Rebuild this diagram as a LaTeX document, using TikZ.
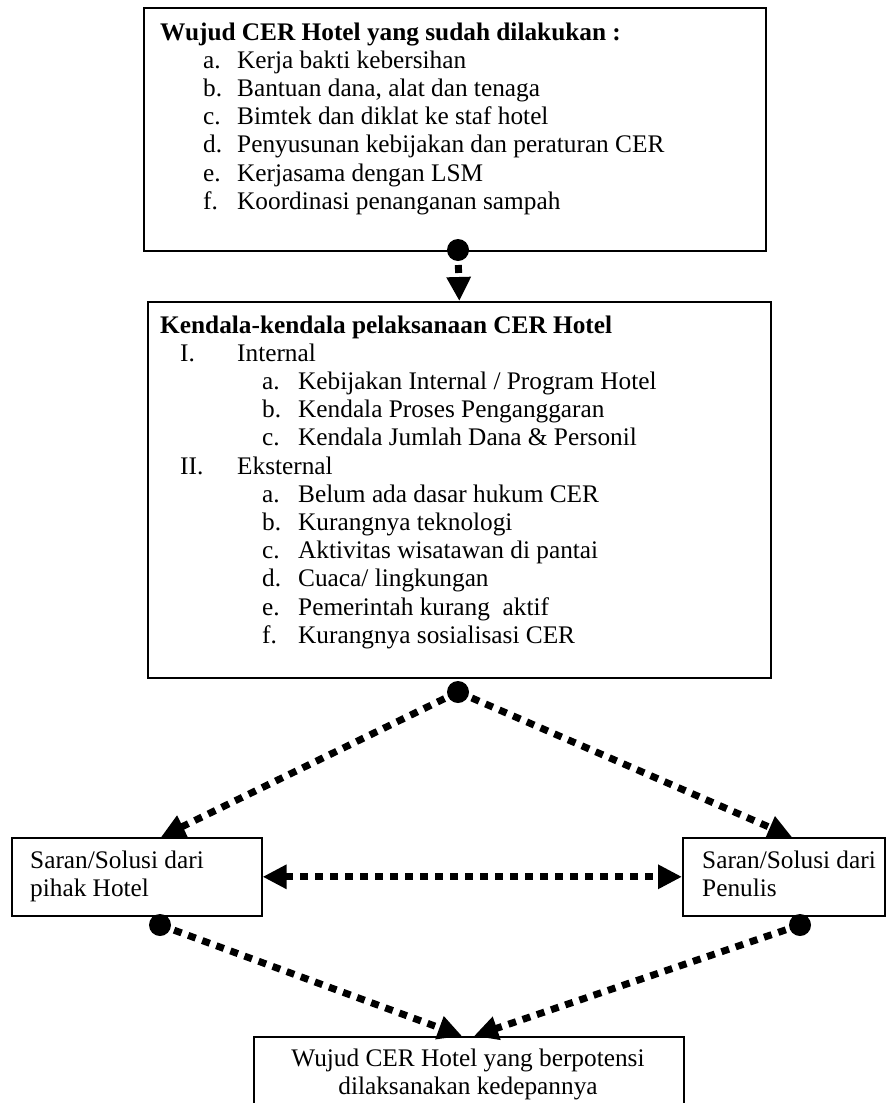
\documentclass[tikz,border=0pt]{standalone}
\usepackage{fontspec}
\setmainfont{Liberation Serif}
\usetikzlibrary{arrows.meta}
\begin{document}
\begin{tikzpicture}[x=1pt,y=-1pt,
  box/.style={draw,line width=1.6pt,inner sep=0pt,anchor=north west},
  txt/.style={anchor=base west,inner sep=0pt,font=\fontsize{25.3}{28}\selectfont},
  ctxt/.style={anchor=base,inner sep=0pt,font=\fontsize{25.3}{28}\selectfont},
  conn/.style={line width=7pt,dash pattern=on 8pt off 7pt,-{Triangle[length=24pt,width=23pt]}},
  conn2/.style={line width=7pt,dash pattern=on 8pt off 7pt,{Triangle[length=24pt,width=23pt]}-{Triangle[length=24pt,width=23pt]}},
  dot/.style={circle,fill,inner sep=0pt,minimum size=22pt}]
\useasboundingbox (0,0) rectangle (896,1103);
% boxes
\node[box,minimum width=622pt,minimum height=243pt] (top) at (143,7) {};
\node[box,minimum width=623pt,minimum height=376pt] (mid) at (147,301) {};
\node[box,minimum width=250pt,minimum height=78pt] (lbox) at (11,837) {};
\node[box,minimum width=202pt,minimum height=78pt] (rbox) at (682,837) {};
\node[box,minimum width=430pt,minimum height=120pt] (bbox) at (253,1036) {};
% top box text
\node[txt,font=\fontsize{25.3}{28}\selectfont\bfseries] (t0) at (160,40) {Wujud CER Hotel yang sudah dilakukan :};
\foreach \i/\l/\t in {1/a./{Kerja bakti kebersihan},2/b./{Bantuan dana, alat dan tenaga},3/c./{Bimtek dan diklat ke staf hotel},4/d./{Penyusunan kebijakan dan peraturan CER},5/e./{Kerjasama dengan LSM},6/f./{Koordinasi penanganan sampah}}{
  \node[txt] (tl\i) at (203,40+28.2*\i) {\l};
  \node[txt] (tt\i) at (237,40+28.2*\i) {\t};
}
% middle box text
\node[txt,font=\fontsize{25.3}{28}\selectfont\bfseries] (m0) at (160,333) {Kendala-kendala pelaksanaan CER Hotel};
\node[txt] (mr1) at (180,361.2) {I.};
\node[txt] (mh1) at (237,361.2) {Internal};
\foreach \i/\l/\t in {1/a./{Kebijakan Internal / Program Hotel},2/b./{Kendala Proses Penganggaran},3/c./{Kendala Jumlah Dana \& Personil}}{
  \node[txt] (ml\i) at (262,361.2+28.2*\i) {\l};
  \node[txt] (mt\i) at (298,361.2+28.2*\i) {\t};
}
\node[txt] (mr2) at (180,474) {II.};
\node[txt] (mh2) at (237,474) {Eksternal};
\foreach \i/\l/\t in {1/a./{Belum ada dasar hukum CER},2/b./{Kurangnya teknologi},3/c./{Aktivitas wisatawan di pantai},4/d./{Cuaca/ lingkungan},5/e./{Pemerintah kurang~ aktif},6/f./{Kurangnya sosialisasi CER}}{
  \node[txt] (el\i) at (262,474+28.2*\i) {\l};
  \node[txt] (et\i) at (298,474+28.2*\i) {\t};
}
% side boxes text
\node[txt] (l1) at (30,868) {Saran/Solusi dari};
\node[txt] (l2) at (30,896) {pihak Hotel};
\node[txt] (r1) at (702,868) {Saran/Solusi dari};
\node[txt] (r2) at (702,896) {Penulis};
% bottom box text
\node[ctxt] (b1) at (468,1066) {Wujud CER Hotel yang berpotensi};
\node[ctxt] (b2) at (468,1094) {dilaksanakan kedepannya};
% dot positions and arrow ends
\coordinate (d1) at (458,250);
\coordinate (d2) at (458,692);
\coordinate (d3) at (160,925);
\coordinate (d4) at (800,925);
\coordinate (lt) at (161,837);
\coordinate (rt) at (792,837);
\coordinate (bl) at (462,1036);
\coordinate (br) at (474,1036);
% connectors
\draw[conn] (d1) -- (mid.north);
\draw[conn] (d2) -- (lt);
\draw[conn] (d2) -- (rt);
\draw[conn2] (lbox.east) -- (rbox.west);
\draw[conn] (d3) -- (bl);
\draw[conn] (d4) -- (br);
\node[dot] (dot1) at (d1) {};
\node[dot] (dot2) at (d2) {};
\node[dot] (dot3) at (d3) {};
\node[dot] (dot4) at (d4) {};
\end{tikzpicture}
\end{document}
